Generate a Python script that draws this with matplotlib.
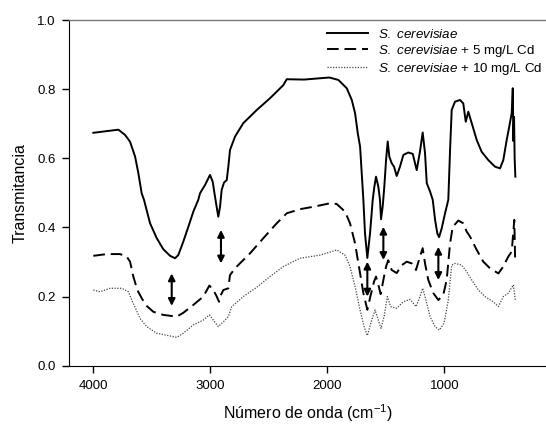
import matplotlib as mpl
mpl.use("Agg")
import matplotlib.pyplot as plt
import numpy as np

plt.rcParams['font.family'] = ['Liberation Sans', 'DejaVu Sans']
plt.rcParams['mathtext.fontset'] = 'custom'
plt.rcParams['mathtext.rm'] = 'Liberation Sans'
plt.rcParams['mathtext.it'] = 'Liberation Sans:italic'

# S. cerevisiae (control)
wn_ctrl = [4000, 3786, 3729, 3686, 3643, 3615, 3587, 3567, 3515, 3458, 3402, 3344, 3302,
           3274, 3231, 3188, 3145, 3103, 3088, 3045, 3003, 2980, 2960, 2932, 2917, 2903,
           2883, 2860, 2846, 2832, 2789, 2718, 2603, 2490, 2376, 2347, 2200, 1983, 1906,
           1834, 1791, 1763, 1740, 1720, 1706, 1692, 1678, 1658, 1635, 1612, 1598, 1584,
           1564, 1550, 1541, 1527, 1513, 1498, 1484, 1470, 1450, 1430, 1407, 1379, 1350,
           1308, 1270, 1236, 1208, 1185, 1165, 1150, 1122, 1099, 1079, 1060, 1045, 1022,
           994, 966, 951, 937, 909, 866, 838, 817, 795, 766, 723, 681, 624, 567, 524, 496,
           467, 445, 424, 415, 410, 404, 399, 393]
t_ctrl = [0.674, 0.683, 0.668, 0.648, 0.605, 0.557, 0.499, 0.480, 0.412, 0.369, 0.337, 0.318,
          0.311, 0.320, 0.359, 0.402, 0.446, 0.480, 0.499, 0.523, 0.552, 0.533, 0.489, 0.431,
          0.460, 0.509, 0.530, 0.537, 0.576, 0.624, 0.663, 0.702, 0.740, 0.774, 0.812, 0.829,
          0.828, 0.834, 0.827, 0.803, 0.769, 0.731, 0.673, 0.634, 0.557, 0.480, 0.383, 0.312,
          0.383, 0.480, 0.518, 0.547, 0.518, 0.480, 0.424, 0.460, 0.518, 0.595, 0.649, 0.605,
          0.586, 0.576, 0.549, 0.576, 0.610, 0.617, 0.613, 0.566, 0.620, 0.675, 0.615, 0.528,
          0.504, 0.480, 0.422, 0.383, 0.372, 0.398, 0.441, 0.480, 0.624, 0.740, 0.764, 0.769,
          0.759, 0.706, 0.735, 0.702, 0.653, 0.619, 0.595, 0.576, 0.571, 0.595, 0.653, 0.692,
          0.731, 0.803, 0.650, 0.720, 0.600, 0.547]

# S. cerevisiae + 5 mg/L Cd
wn_cd5 = [4000, 3885, 3772, 3715, 3686, 3658, 3624, 3586, 3544, 3487, 3402, 3287, 3231,
          3145, 3060, 3008, 2974, 2945, 2926, 2909, 2889, 2846, 2832, 2789, 2661, 2547,
          2433, 2347, 2233, 2119, 1977, 1920, 1849, 1806, 1763, 1720, 1692, 1658, 1629,
          1601, 1584, 1564, 1544, 1521, 1498, 1479, 1450, 1407, 1364, 1321, 1279, 1242,
          1208, 1185, 1165, 1137, 1094, 1051, 1009, 980, 951, 928, 880, 838, 809, 781,
          723, 667, 610, 538, 496, 453, 424, 402, 395]
t_cd5 = [0.318, 0.323, 0.323, 0.316, 0.301, 0.258, 0.219, 0.195, 0.173, 0.156, 0.147, 0.142,
         0.153, 0.176, 0.200, 0.232, 0.219, 0.200, 0.185, 0.205, 0.219, 0.224, 0.262, 0.282,
         0.325, 0.369, 0.412, 0.441, 0.453, 0.460, 0.470, 0.468, 0.446, 0.412, 0.354, 0.267,
         0.210, 0.162, 0.205, 0.243, 0.258, 0.234, 0.207, 0.248, 0.287, 0.305, 0.277, 0.268,
         0.291, 0.301, 0.296, 0.277, 0.316, 0.340, 0.296, 0.248, 0.210, 0.190, 0.205, 0.248,
         0.354, 0.402, 0.420, 0.412, 0.388, 0.374, 0.335, 0.301, 0.282, 0.267, 0.287, 0.316,
         0.330, 0.422, 0.310]

# S. cerevisiae + 10 mg/L Cd
wn_cd10 = [4000, 3943, 3857, 3757, 3701, 3658, 3601, 3544, 3458, 3344, 3287, 3231, 3145,
           3060, 3008, 2974, 2932, 2889, 2846, 2817, 2718, 2603, 2490, 2376, 2233, 2062,
           1920, 1849, 1806, 1763, 1720, 1686, 1658, 1621, 1592, 1564, 1541, 1515, 1487,
           1458, 1407, 1350, 1293, 1242, 1208, 1185, 1159, 1122, 1079, 1043, 1003, 966,
           937, 909, 851, 809, 766, 709, 652, 581, 538, 496, 453, 410, 393]
t_cd10 = [0.219, 0.214, 0.224, 0.224, 0.214, 0.180, 0.137, 0.113, 0.094, 0.086, 0.082, 0.094,
          0.118, 0.132, 0.147, 0.132, 0.113, 0.127, 0.142, 0.171, 0.200, 0.227, 0.258, 0.287,
          0.311, 0.320, 0.335, 0.320, 0.287, 0.229, 0.161, 0.113, 0.087, 0.132, 0.161, 0.132,
          0.108, 0.142, 0.200, 0.171, 0.166, 0.185, 0.192, 0.171, 0.200, 0.224, 0.192, 0.142,
          0.113, 0.103, 0.123, 0.190, 0.291, 0.296, 0.291, 0.272, 0.248, 0.219, 0.200, 0.185,
          0.171, 0.200, 0.210, 0.234, 0.190]

# double arrows: position, lower end, upper end
arrow_wn = [3330, 2909, 1658, 1521, 1051]
arrow_lo = [0.173, 0.296, 0.200, 0.306, 0.248]
arrow_hi = [0.267, 0.393, 0.301, 0.402, 0.344]

labels = [r'$\it{S.\ cerevisiae}$',
          r'$\it{S.\ cerevisiae}$ + 5 mg/L Cd',
          r'$\it{S.\ cerevisiae}$ + 10 mg/L Cd']

fig = plt.figure(figsize=(5.46, 4.24), dpi=100)
ax = fig.add_axes([0.127, 0.1375, 0.873, 0.815])

ax.plot(wn_ctrl, t_ctrl, color='black', lw=1.4, label=labels[0])
ax.plot(wn_cd5, t_cd5, color='black', lw=1.4, dashes=(6, 3), label=labels[1])
ax.plot(wn_cd10, t_cd10, color='#444444', lw=0.9, linestyle=(0, (1, 1.2)), label=labels[2])

for w, lo, hi in zip(arrow_wn, arrow_lo, arrow_hi):
    ax.annotate('', xy=(w, lo), xytext=(w, hi),
                arrowprops=dict(arrowstyle='<|-|>', color='black', lw=1.5,
                                mutation_scale=10, shrinkA=0, shrinkB=0))

ax.set_xlim(4205, 131)
ax.set_ylim(0, 1.0)
ax.set_xticks([4000, 3000, 2000, 1000])
ax.set_yticks([0.0, 0.2, 0.4, 0.6, 0.8, 1.0])
ax.set_yticklabels(['0.0', '0.2', '0.4', '0.6', '0.8', '1.0'])
ax.tick_params(direction='out', length=5, labelsize=9.5, width=1, pad=5)

ax.spines['right'].set_visible(False)
ax.spines['top'].set_color('#777777')
ax.spines['top'].set_linewidth(1)

ax.set_xlabel('Número de onda (cm$^{-1}$)', fontsize=11.5, labelpad=8)
ax.set_ylabel('Transmitancia', fontsize=11.5, labelpad=7)

ax.legend(loc='upper right', frameon=False, fontsize=9.6, handlelength=3.1,
          handletextpad=0.75, labelspacing=0.14, borderaxespad=0.3, borderpad=0.3,
          bbox_to_anchor=(1.009, 1.0))

fig.savefig('out.png', dpi=100)
